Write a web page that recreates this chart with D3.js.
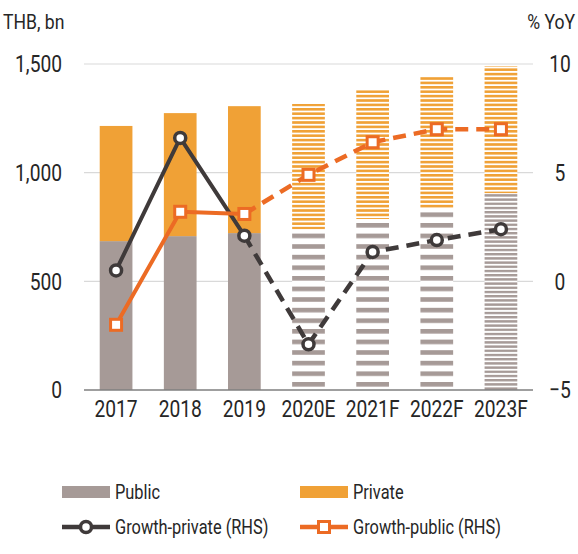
<!DOCTYPE html>
<html>
<head>
<meta charset="utf-8">
<script src="https://cdn.jsdelivr.net/npm/d3@7"></script>
<style>
  body { margin: 0; background: #fff; }
  text { font-family: "Roboto", sans-serif; fill: #262626; }
</style>
</head>
<body>
<div id="wrapper"></div>
<script>
// Data
const categories = ["2017", "2018", "2019", "2020E", "2021F", "2022F", "2023F"]
const publicValues = [685, 708, 722, 740, 787, 833, 906]
const privateValues = [530, 566, 584, 576, 593, 607, 584]
const growthPrivate = [0.5, 6.6, 2.1, -2.9, 1.35, 1.9, 2.4]
const growthPublic = [-2.0, 3.2, 3.1, 4.9, 6.4, 7.0, 7.0]
const leftTicks = [0, 500, 1000, 1500]
const rightTicks = [-5, 0, 5, 10]

const colors = {
    public: "#a69a97",
    private: "#f0a136",
    growthPrivate: "#3f3a3a",
    growthPublic: "#ec6b24",
}

// Dimensions
let dimensions = {
    width: 578,
    height: 554,
    margins: { top: 64, right: 45, bottom: 164, left: 84 },
}
dimensions.boundedWidth = dimensions.width - dimensions.margins.left - dimensions.margins.right
dimensions.boundedHeight = dimensions.height - dimensions.margins.top - dimensions.margins.bottom

// the source font is a narrow one, so squeeze text horizontally
function condense(selection, k) {
    selection.each(function () {
        const t = d3.select(this)
        const x = +t.attr("x") || 0
        t.attr("x", x / k).attr("transform", `scale(${k},1)`)
    })
}

const svg = d3.select("#wrapper")
    .append("svg")
        .attr("width", dimensions.width)
        .attr("height", dimensions.height)

// stripe patterns for estimate / forecast bars
const defs = svg.append("defs")
function stripePattern(id, color, period, thickness) {
    const p = defs.append("pattern")
        .attr("id", id)
        .attr("patternUnits", "userSpaceOnUse")
        .attr("width", 10)
        .attr("height", period)
    p.append("rect").attr("width", 10).attr("height", period).attr("fill", "#fff")
    p.append("rect").attr("y", 0).attr("width", 10).attr("height", thickness).attr("fill", color)
}
stripePattern("pubWide", colors.public, 10.6, 4.6)
stripePattern("pubDense", colors.public, 4.2, 2.4)
stripePattern("privDense", colors.private, 4.4, 2.6)

const bounds = svg.append("g")
    .attr("transform", `translate(${dimensions.margins.left},${dimensions.margins.top})`)

// Scales
const xScale = d3.scaleBand()
    .domain(categories)
    .range([0, dimensions.boundedWidth])
    .paddingInner(0.49)
    .paddingOuter(0.245)

const yScale = d3.scaleLinear()
    .domain([0, 1500])
    .range([dimensions.boundedHeight, 0])

const y2Scale = d3.scaleLinear()
    .domain([-5, 10])
    .range([dimensions.boundedHeight, 0])

// Gridlines
bounds.append("g")
    .selectAll("line")
    .data(leftTicks.filter(d => d > 0))
    .join("line")
        .attr("x1", 0)
        .attr("x2", dimensions.boundedWidth)
        .attr("y1", d => yScale(d))
        .attr("y2", d => yScale(d))
        .attr("stroke", "#d9d9d9")
        .attr("stroke-width", 1.2)

// Bars
const isForecast = (c) => /[EF]$/.test(c)
const publicFill = (c, i) => !isForecast(c) ? colors.public : (i === categories.length - 1 ? "url(#pubDense)" : "url(#pubWide)")
const privateFill = (c) => !isForecast(c) ? colors.private : "url(#privDense)"

const barData = categories.map((c, i) => ({
    cat: c, i, pub: publicValues[i], priv: privateValues[i],
}))

bounds.append("g")
    .selectAll("rect")
    .data(barData)
    .join("rect")
        .attr("x", d => xScale(d.cat))
        .attr("width", xScale.bandwidth())
        .attr("y", d => yScale(d.pub))
        .attr("height", d => yScale(0) - yScale(d.pub))
        .attr("fill", d => publicFill(d.cat, d.i))

bounds.append("g")
    .selectAll("rect")
    .data(barData)
    .join("rect")
        .attr("x", d => xScale(d.cat))
        .attr("width", xScale.bandwidth())
        .attr("y", d => yScale(d.pub + d.priv))
        .attr("height", d => yScale(d.pub) - yScale(d.pub + d.priv))
        .attr("fill", d => privateFill(d.cat))

// Baseline
bounds.append("line")
    .attr("x1", 0)
    .attr("x2", dimensions.boundedWidth)
    .attr("y1", yScale(0))
    .attr("y2", yScale(0))
    .attr("stroke", "#7f7f7f")
    .attr("stroke-width", 1.5)

// Lines
const xCenter = c => xScale(c) + xScale.bandwidth() / 2
const lastActual = categories.findIndex(isForecast) - 1

function drawGrowth(values, color, marker) {
    const pts = categories.map((c, i) => [xCenter(c), y2Scale(values[i])])
    const lineGenerator = d3.line()
    bounds.append("path")
        .attr("d", lineGenerator(pts.slice(0, lastActual + 1)))
        .attr("fill", "none")
        .attr("stroke", color)
        .attr("stroke-width", 4)
        .attr("stroke-linejoin", "round")
    bounds.append("path")
        .attr("d", lineGenerator(pts.slice(lastActual)))
        .attr("fill", "none")
        .attr("stroke", color)
        .attr("stroke-width", 4.5)
        .attr("stroke-dasharray", "13,8")
    const g = bounds.append("g")
    if (marker === "circle") {
        g.selectAll("circle")
            .data(pts)
            .join("circle")
                .attr("cx", d => d[0])
                .attr("cy", d => d[1])
                .attr("r", 5.5)
                .attr("fill", "#fff")
                .attr("stroke", color)
                .attr("stroke-width", 3.5)
    } else {
        g.selectAll("rect")
            .data(pts)
            .join("rect")
                .attr("x", d => d[0] - 5.5)
                .attr("y", d => d[1] - 5.5)
                .attr("width", 11)
                .attr("height", 11)
                .attr("fill", "#fff")
                .attr("stroke", color)
                .attr("stroke-width", 3)
    }
}
drawGrowth(growthPrivate, colors.growthPrivate, "circle")
drawGrowth(growthPublic, colors.growthPublic, "square")

// Axes
const yAxisGenerator = d3.axisLeft(yScale)
    .tickValues(leftTicks)
    .tickSize(0)
    .tickPadding(22)
    .tickFormat(d3.format(","))
const yAxis = bounds.append("g").call(yAxisGenerator)
yAxis.select(".domain").remove()
yAxis.selectAll("text")
    .attr("font-size", 24)
    .attr("font-family", null)
    .attr("fill", "#262626")
    .call(condense, 0.8)

const y2AxisGenerator = d3.axisRight(y2Scale)
    .tickValues(rightTicks)
    .tickSize(0)
    .tickPadding(0)
const y2Axis = bounds.append("g")
    .attr("transform", `translate(${dimensions.boundedWidth + 27},0)`)
    .call(y2AxisGenerator)
y2Axis.select(".domain").remove()
y2Axis.selectAll("text")
    .attr("font-size", 24)
    .attr("font-family", null)
    .attr("fill", "#262626")
    .attr("text-anchor", "middle")
    .call(condense, 0.8)

const xAxisGenerator = d3.axisBottom(xScale).tickSize(0).tickPadding(10)
const xAxis = bounds.append("g")
    .attr("transform", `translate(0,${dimensions.boundedHeight})`)
    .call(xAxisGenerator)
xAxis.select(".domain").remove()
xAxis.selectAll("text")
    .attr("font-size", 24)
    .attr("font-family", null)
    .attr("fill", "#262626")
    .call(condense, 0.8)

// Axis titles
svg.append("text")
    .attr("x", 3)
    .attr("y", 29)
    .attr("font-size", 20)
    .text("THB, bn")
    .call(condense, 0.88)
svg.append("text")
    .attr("x", 575)
    .attr("y", 29)
    .attr("font-size", 20)
    .attr("text-anchor", "end")
    .text("% YoY")
    .call(condense, 0.88)

// Legend
const legendItems = [
    { label: "Public", type: "bar", color: colors.public, x: 62, y: 492 },
    { label: "Private", type: "bar", color: colors.private, x: 300, y: 492 },
    { label: "Growth-private (RHS)", type: "circle", color: colors.growthPrivate, x: 62, y: 527 },
    { label: "Growth-public (RHS)", type: "square", color: colors.growthPublic, x: 300, y: 527 },
]
const legend = svg.append("g")
legendItems.forEach(item => {
    const g = legend.append("g").attr("transform", `translate(${item.x},${item.y})`)
    if (item.type === "bar") {
        g.append("rect").attr("x", 0).attr("y", -6).attr("width", 48).attr("height", 12).attr("fill", item.color)
    } else {
        g.append("line").attr("x1", 0).attr("x2", 48).attr("y1", 0).attr("y2", 0)
            .attr("stroke", item.color).attr("stroke-width", 4.5)
        if (item.type === "circle") {
            g.append("circle").attr("cx", 24).attr("cy", 0).attr("r", 5.5)
                .attr("fill", "#fff").attr("stroke", item.color).attr("stroke-width", 3.5)
        } else {
            g.append("rect").attr("x", 18.5).attr("y", -5.5).attr("width", 11).attr("height", 11)
                .attr("fill", "#fff").attr("stroke", item.color).attr("stroke-width", 3)
        }
    }
    g.append("text")
        .attr("x", 53)
        .attr("y", 0)
        .attr("dy", "0.35em")
        .attr("font-size", 20)
        .text(item.label)
        .call(condense, 0.82)
})
</script>
</body>
</html>
